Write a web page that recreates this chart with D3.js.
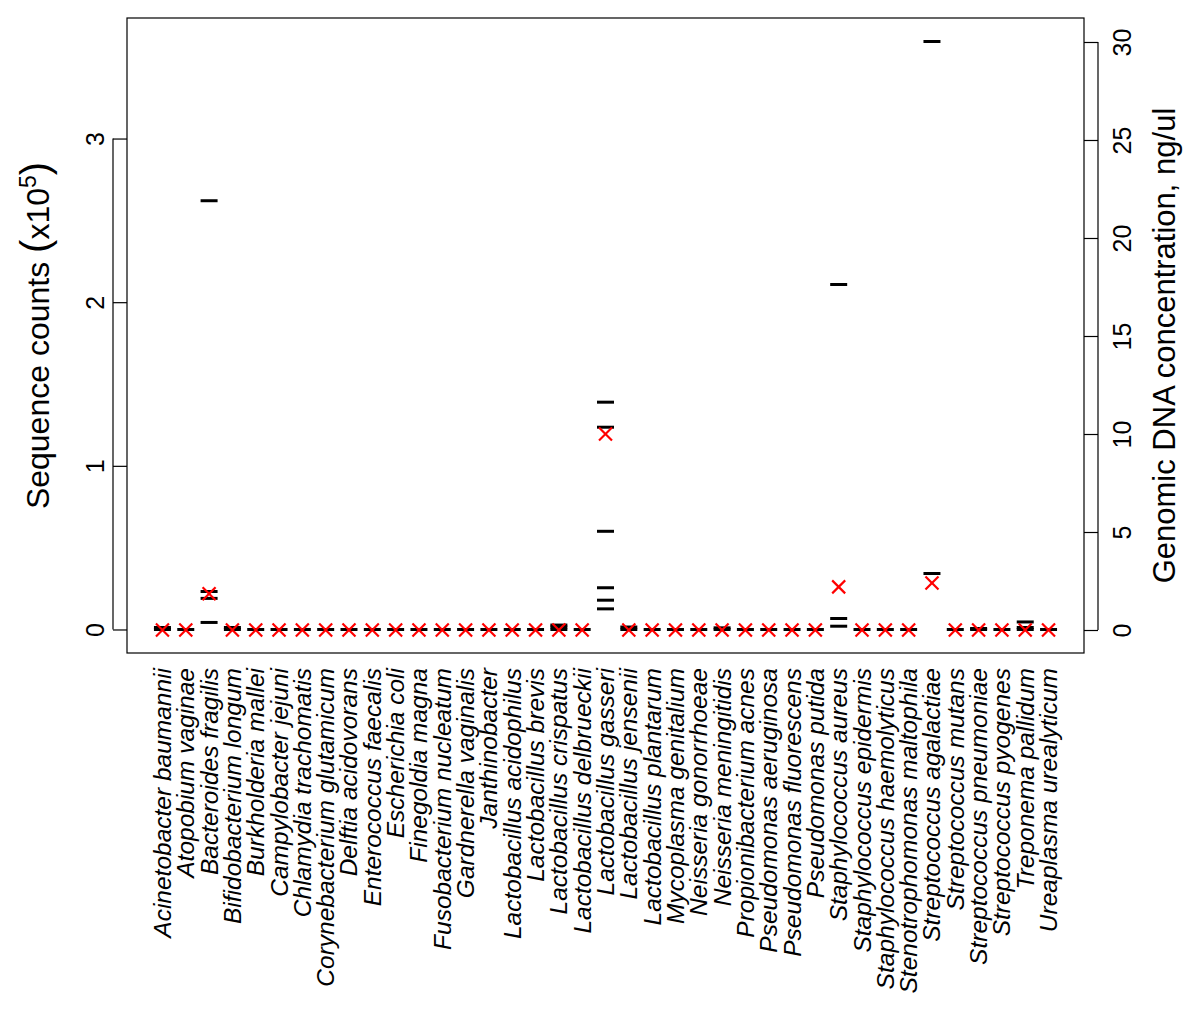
<!DOCTYPE html>
<html>
<head>
<meta charset="utf-8">
<script src="https://cdn.jsdelivr.net/npm/d3@7"></script>
<style>
  html, body { margin: 0; padding: 0; background: #fff; }
  svg { display: block; font-family: "Liberation Sans", Arial, Helvetica, sans-serif; }
</style>
</head>
<body>
<svg id="chart" width="1200" height="1027"></svg>
<script>
// ---- Data ----
const species = [
  "Acinetobacter baumannii", "Atopobium vaginae", "Bacteroides fragilis",
  "Bifidobacterium longum", "Burkholderia mallei", "Campylobacter jejuni",
  "Chlamydia trachomatis", "Corynebacterium glutamicum", "Delftia acidovorans",
  "Enterococcus faecalis", "Escherichia coli", "Finegoldia magna",
  "Fusobacterium nucleatum", "Gardnerella vaginalis", "Janthinobacter",
  "Lactobacillus acidophilus", "Lactobacillus brevis", "Lactobacillus crispatus",
  "Lactobacillus delbrueckii", "Lactobacillus gasseri", "Lactobacillus jensenii",
  "Lactobacillus plantarum", "Mycoplasma genitalium", "Neisseria gonorrhoeae",
  "Neisseria meningitidis", "Propionibacterium acnes", "Pseudomonas aeruginosa",
  "Pseudomonas fluorescens", "Pseudomonas putida", "Staphylococcus aureus",
  "Staphylococcus epidermis", "Staphylococcus haemolyticus", "Stenotrophomonas maltophila",
  "Streptococcus agalactiae", "Streptococcus mutans", "Streptococcus pneumoniae",
  "Streptococcus pyogenes", "Treponema pallidum", "Ureaplasma urealyticum"
];

// Sequence counts (x10^5), replicate values per species (black dashes, left axis)
const sequenceCounts = [
  [0, 0.012], [0], [2.62, 0.232, 0.19, 0.043],
  [0, 0.012], [0], [0],
  [0], [0], [0],
  [0], [0], [0],
  [0], [0], [0],
  [0], [0], [0, 0.015, 0.027],
  [0], [1.389, 1.236, 0.60, 0.255, 0.179, 0.126], [0, 0.015],
  [0], [0], [0],
  [0, 0.01], [0], [0],
  [0], [0], [2.108, 0.067, 0.02],
  [0], [0], [0],
  [3.593, 0.342], [0], [0, 0.006],
  [0], [0.046, 0.012, 0], [0]
];

// Genomic DNA concentration, ng/ul (red crosses, right axis)
const dnaConcentration = [
  0, 0, 1.85, 0, 0, 0, 0, 0, 0, 0, 0, 0, 0, 0, 0, 0, 0, 0, 0,
  10.0, 0, 0, 0, 0, 0, 0, 0, 0, 0, 2.2, 0, 0, 0, 2.4, 0, 0, 0, 0, 0
];

const leftTicks = [0, 1, 2, 3];
const rightTicks = [0, 5, 10, 15, 20, 25, 30];

// ---- Layout ----
const svg = d3.select("#chart");
const plot = { left: 127, right: 1084, top: 18, bottom: 653 };

const x = d3.scaleLinear()
  .domain([-1.52, species.length - 1 + 1.52])
  .range([plot.left, plot.right]);

const yLeft = d3.scaleLinear()
  .domain([-0.1437, 3.7366])
  .range([plot.bottom, plot.top]);

const yRight = d3.scaleLinear()
  .domain([-1.173, 31.224])
  .range([plot.bottom, plot.top]);

// frame
svg.append("rect")
  .attr("x", plot.left).attr("y", plot.top)
  .attr("width", plot.right - plot.left).attr("height", plot.bottom - plot.top)
  .attr("fill", "none").attr("stroke", "#000").attr("stroke-width", 1.2);

// left axis
const leftAxis = d3.axisLeft(yLeft).tickValues(leftTicks).tickSize(14).tickPadding(0)
  .tickFormat(d3.format("d"));
const gL = svg.append("g").attr("transform", `translate(${plot.left},0)`).call(leftAxis);
gL.attr("font-size", null).attr("font-family", null);
gL.select(".domain").attr("d", `M-14,${yLeft(0)}V${yLeft(3)}`).attr("stroke-width", 1.2);
gL.selectAll(".tick line").attr("stroke-width", 1.2);
gL.selectAll(".tick text")
  .attr("x", 0).attr("y", 0).attr("dy", null)
  .attr("text-anchor", "middle")
  .attr("fill", "#000")
  .attr("transform", "translate(-23,0) rotate(-90)")
  .style("font-size", "25px")
  .style("font-family", "'Liberation Sans', Arial, sans-serif");

// right axis
const rightAxis = d3.axisRight(yRight).tickValues(rightTicks).tickSize(14).tickPadding(0)
  .tickFormat(d3.format("d"));
const gR = svg.append("g").attr("transform", `translate(${plot.right},0)`).call(rightAxis);
gR.attr("font-size", null).attr("font-family", null);
gR.select(".domain").attr("d", `M14,${yRight(0)}V${yRight(30)}`).attr("stroke-width", 1.2);
gR.selectAll(".tick line").attr("stroke-width", 1.2);
gR.selectAll(".tick text")
  .attr("x", 0).attr("y", 0).attr("dy", null)
  .attr("text-anchor", "middle")
  .attr("fill", "#000")
  .attr("transform", "translate(47,0) rotate(-90)")
  .style("font-size", "25px")
  .style("font-family", "'Liberation Sans', Arial, sans-serif");

// x labels (no ticks)
svg.append("g").selectAll("text")
  .data(species)
  .join("text")
  .attr("transform", (d, i) => `translate(${x(i) + 8.5},668) rotate(-90)`)
  .attr("text-anchor", "end")
  .style("font-size", "24.5px")
  .attr("font-style", "italic")
  .attr("fill", "#000")
  .text(d => d);

// axis titles
const tl = svg.append("text")
  .attr("transform", `translate(49,${(plot.top + plot.bottom) / 2}) rotate(-90)`)
  .attr("text-anchor", "middle")
  .style("font-size", "32px")
  .attr("fill", "#000");
tl.append("tspan").text("Sequence counts ");
tl.append("tspan").text("(").style("font-size", "40px");
tl.append("tspan").text("x10");
tl.append("tspan").text("5").style("font-size", "23px").attr("dy", -13);
tl.append("tspan").text(")").style("font-size", "40px").attr("dy", 13);

svg.append("text")
  .attr("transform", `translate(1175,${(plot.top + plot.bottom) / 2 + 10}) rotate(-90)`)
  .attr("text-anchor", "middle")
  .style("font-size", "31px")
  .attr("fill", "#000")
  .text("Genomic DNA concentration, ng/ul");

// black dashes (sequence counts)
const dashData = [];
sequenceCounts.forEach((vals, i) => vals.forEach(v => dashData.push({ i, v })));
svg.append("g").selectAll("line")
  .data(dashData)
  .join("line")
  .attr("x1", d => x(d.i) - 8.5)
  .attr("x2", d => x(d.i) + 8.5)
  .attr("y1", d => yLeft(d.v))
  .attr("y2", d => yLeft(d.v))
  .attr("stroke", "#000")
  .attr("stroke-width", 3);

// red crosses (DNA concentration)
const cross = svg.append("g").selectAll("g")
  .data(dnaConcentration)
  .join("g")
  .attr("transform", (d, i) => `translate(${x(i)},${yRight(d)})`);
const s = 6.5;
cross.append("line").attr("x1", -s).attr("y1", -s).attr("x2", s).attr("y2", s)
  .attr("stroke", "#f00").attr("stroke-width", 2.2);
cross.append("line").attr("x1", -s).attr("y1", s).attr("x2", s).attr("y2", -s)
  .attr("stroke", "#f00").attr("stroke-width", 2.2);
</script>
</body>
</html>
